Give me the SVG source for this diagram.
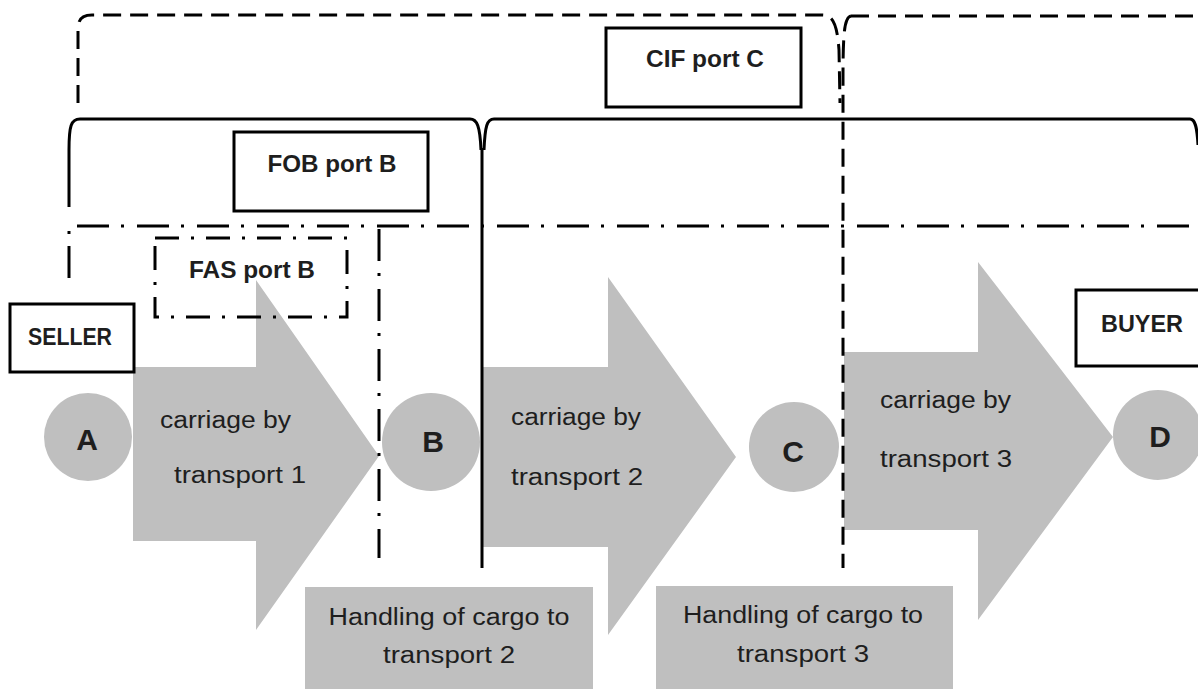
<svg xmlns="http://www.w3.org/2000/svg" width="1198" height="689" viewBox="0 0 1198 689">
<style>
.bg{fill:#ffffff}
.gray{fill:#bfbfbf;stroke:none}
.box{fill:#ffffff;stroke:#000;stroke-width:3}
.t{font-family:"Liberation Sans",Arial,sans-serif;font-size:23px;fill:#1e1e1e}
.b{font-family:"Liberation Sans",Arial,sans-serif;font-size:23px;font-weight:bold;fill:#1e1e1e}
.L{font-family:"Liberation Sans",Arial,sans-serif;font-size:30px;font-weight:bold;fill:#1e1e1e}
.solid{fill:none;stroke:#000;stroke-width:3}
.dash{fill:none;stroke:#000;stroke-width:3;stroke-dasharray:18 9}
.dd{fill:none;stroke:#000;stroke-width:3;stroke-dasharray:32 12 3 13}
.dd2{fill:none;stroke:#000;stroke-width:3;stroke-dasharray:24 12 3 12}
</style>
<rect class="bg" x="0" y="0" width="1198" height="689"/>

<g id="arrow1">
<polygon class="gray" points="133,367 256,367 256,280 379,456 256,630 256,541 133,541"/>
<text class="t" x="160" y="428" textLength="131" lengthAdjust="spacingAndGlyphs">carriage by</text>
<text class="t" x="174" y="483" textLength="132" lengthAdjust="spacingAndGlyphs">transport 1</text>
</g>
<g id="arrow2">
<polygon class="gray" points="482,367 608,367 608,277 736,457 608,635 608,547 482,547"/>
<text class="t" x="511" y="425" textLength="130" lengthAdjust="spacingAndGlyphs">carriage by</text>
<text class="t" x="511" y="485" textLength="132" lengthAdjust="spacingAndGlyphs">transport 2</text>
</g>
<g id="arrow3">
<polygon class="gray" points="844,352 978,352 978,262 1113,437 978,620 978,530 844,530"/>
<text class="t" x="880" y="408" textLength="131" lengthAdjust="spacingAndGlyphs">carriage by</text>
<text class="t" x="880" y="467" textLength="132" lengthAdjust="spacingAndGlyphs">transport 3</text>
</g>

<g id="nodeA">
<circle class="gray" cx="88" cy="437" r="44"/>
<text class="L" x="87" y="450" text-anchor="middle">A</text>
</g>
<g id="nodeB">
<circle class="gray" cx="431" cy="442" r="49"/>
<text class="L" x="433" y="452" text-anchor="middle">B</text>
</g>
<g id="nodeC">
<circle class="gray" cx="794" cy="447" r="45"/>
<text class="L" x="793" y="462" text-anchor="middle">C</text>
</g>
<g id="nodeD">
<circle class="gray" cx="1158" cy="435" r="45"/>
<text class="L" x="1160" y="447" text-anchor="middle">D</text>
</g>

<g id="handling2">
<rect class="gray" x="305" y="587" width="288" height="102"/>
<text class="t" x="449" y="625" text-anchor="middle" textLength="241" lengthAdjust="spacingAndGlyphs">Handling of cargo to</text>
<text class="t" x="449" y="663" text-anchor="middle" textLength="132" lengthAdjust="spacingAndGlyphs">transport 2</text>
</g>
<g id="handling3">
<rect class="gray" x="656" y="586" width="297" height="103"/>
<text class="t" x="803" y="623" text-anchor="middle" textLength="240" lengthAdjust="spacingAndGlyphs">Handling of cargo to</text>
<text class="t" x="803" y="662" text-anchor="middle" textLength="132" lengthAdjust="spacingAndGlyphs">transport 3</text>
</g>

<g id="connectors">
<path class="dash" d="M78,103 L78,32 C78,19 81,15 92,15 L822,15 C832,15 837,22 839,50 L840,103"/>
<path class="dash" d="M851,16 C845,17 843,28 843,77 L843,568"/>
<path class="dash" d="M851,16 L1198,16"/>
<path class="solid" d="M69,207 L69,150 C69,126 71,119 80,119 L470,119 C477,119 480,126 481,150"/>
<path class="solid" d="M484,150 C485,126 487,119 494,119 L1190,119 C1195,119 1197,126 1198,145"/>
<path class="solid" d="M482,148 L482,568"/>
<path class="dd" d="M69,278 L69,226 L1198,226"/>
<path class="dd" d="M379,229 L379,558"/>
</g>

<g id="seller">
<rect class="box" x="10" y="304" width="124" height="68"/>
<text class="b" x="70" y="345" text-anchor="middle" textLength="84" lengthAdjust="spacingAndGlyphs">SELLER</text>
</g>
<g id="buyer">
<rect class="box" x="1076" y="290" width="130" height="76"/>
<text class="b" x="1142" y="332" text-anchor="middle" textLength="82" lengthAdjust="spacingAndGlyphs">BUYER</text>
</g>
<g id="cif">
<rect class="box" x="606" y="28" width="195" height="79"/>
<text class="b" x="705" y="67" text-anchor="middle" textLength="118" lengthAdjust="spacingAndGlyphs">CIF port C</text>
</g>
<g id="fob">
<rect class="box" x="234" y="132" width="194" height="79"/>
<text class="b" x="332" y="172" text-anchor="middle" textLength="129" lengthAdjust="spacingAndGlyphs">FOB port B</text>
</g>
<g id="fas">
<rect class="dd2" x="155" y="238" width="192" height="79"/>
<text class="b" x="252" y="278" text-anchor="middle" textLength="126" lengthAdjust="spacingAndGlyphs">FAS port B</text>
</g>
</svg>
